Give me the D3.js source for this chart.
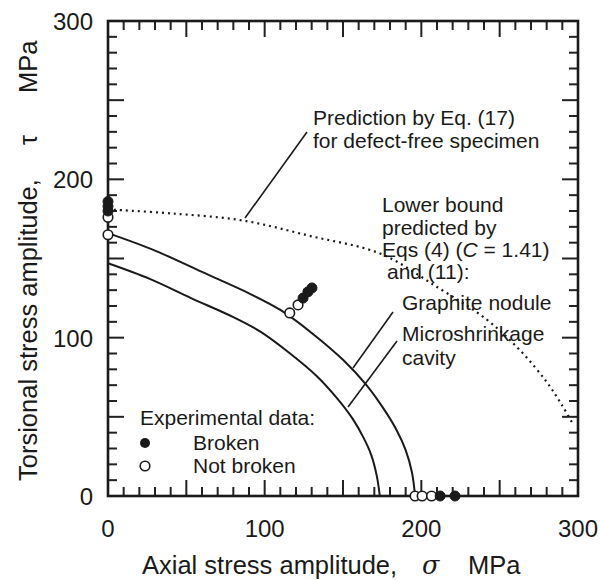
<!DOCTYPE html>
<html><head><meta charset="utf-8">
<script src="https://cdn.jsdelivr.net/npm/d3@7"></script>
<style>body{margin:0;background:#fff}svg{display:block}text{font-family:"Liberation Sans",Arial,sans-serif;fill:#1a1a1a}</style>
</head><body>
<script>
const xTickValues = [0, 100, 200, 300];
const yTickValues = [0, 100, 200, 300];
const minorTicks = [10, 20, 30, 40, 60, 70, 80, 90, 110, 120, 130, 140, 160, 170, 180, 190, 210, 220, 230, 240, 260, 270, 280, 290];
const majorTicks = [50, 100, 150, 200, 250];
// Prediction by Eq.(17), defect-free (dotted)
const dottedSigma = [0, 40, 86, 130, 174, 210, 241, 263, 280, 290, 297];
const dottedTau   = [181, 178.5, 174, 164, 153, 132, 112, 92, 72, 57, 45];
// Graphite nodule lower bound (outer solid)
const outerSigma = [0, 30, 60, 90, 110, 130, 150, 165, 176, 184, 190, 194, 196];
const outerTau   = [166, 155, 141.5, 128, 117.5, 103, 86, 70, 55, 42, 29, 15, 0];
// Microshrinkage cavity lower bound (inner solid)
const innerSigma = [0, 27, 53, 80, 97, 115, 133, 146, 156, 163, 168, 171.5, 173.5];
const innerTau   = [147, 137, 125, 113, 104, 91, 76, 62, 49, 37, 26, 13, 0];
// Experimental data
const brokenSigma = [0, 0, 0, 124.5, 127.6, 130.2, 212, 221.5];
const brokenTau   = [186, 183, 180, 125, 128.9, 131.4, 0, 0];
const notBrokenSigma = [0, 0, 116, 121.3, 196, 200.5, 206.5];
const notBrokenTau   = [176, 165, 115.6, 120.7, 0, 0, 0];

const W = 600, H = 580;
const svg = d3.select("body").append("svg").attr("width", W).attr("height", H);
const x = d3.scaleLinear().domain([0, 300]).range([108, 578]);
const y = d3.scaleLinear().domain([0, 300]).range([496, 21]);
const ink = "#1a1a1a";

// inward ticks on all four sides, as thin filled rectangles
const tickData = [];
[[minorTicks, 9], [majorTicks, 16]].forEach(([vals, len]) => {
  vals.forEach(v => {
    tickData.push({ px: x(v) - 1, py: y(0) - len, w: 2, h: len });
    tickData.push({ px: x(v) - 1, py: y(300), w: 2, h: len });
    tickData.push({ px: x(0), py: y(v) - 1, w: len, h: 2 });
    tickData.push({ px: x(300) - len, py: y(v) - 1, w: len, h: 2 });
  });
});
svg.append("g").selectAll("rect").data(tickData).enter().append("rect")
  .attr("x", d => d.px).attr("y", d => d.py).attr("width", d => d.w).attr("height", d => d.h)
  .attr("fill", "#222");

svg.append("rect").attr("x", x(0)).attr("y", y(300)).attr("width", x(300) - x(0)).attr("height", y(0) - y(300))
  .attr("fill", "none").attr("stroke", ink).attr("stroke-width", 2.6);

// tick labels
svg.selectAll(".xl").data(xTickValues).enter().append("text")
  .attr("x", d => x(d)).attr("y", 537).attr("text-anchor", "middle").attr("font-size", 24).text(d => d);
svg.selectAll(".yl").data(yTickValues).enter().append("text")
  .attr("x", 93).attr("y", d => y(d) + 9).attr("text-anchor", "end").attr("font-size", 24).text(d => d);

// axis titles
const xt = svg.append("text").attr("x", 142).attr("y", 574).attr("font-size", 25.5);
xt.append("tspan").text("Axial stress amplitude,");
xt.append("tspan").attr("x", 422).attr("font-style", "italic").attr("font-family", "DejaVu Serif").text("σ");
xt.append("tspan").attr("x", 468).text("MPa");
const yt = svg.append("text").attr("transform", "translate(37,481) rotate(-90)").attr("font-size", 25.5);
yt.append("tspan").text("Torsional stress amplitude,");
yt.append("tspan").attr("x", 336).text("τ");
yt.append("tspan").attr("x", 388).text("MPa");

// curves
const line = (xs, ys) => d3.line().x(i => x(xs[i])).y(i => y(ys[i])).curve(d3.curveCatmullRom.alpha(0.5))(d3.range(xs.length));
svg.append("path").attr("d", line(dottedSigma, dottedTau)).attr("fill", "none").attr("stroke", ink)
  .attr("stroke-width", 2.2).attr("stroke-dasharray", "2,4");
svg.append("path").attr("d", line(outerSigma, outerTau)).attr("fill", "none").attr("stroke", ink).attr("stroke-width", 2);
svg.append("path").attr("d", line(innerSigma, innerTau)).attr("fill", "none").attr("stroke", ink).attr("stroke-width", 2);

// leader lines
const leaders = [[307, 132, 245, 218], [393, 312, 353, 368], [397, 341, 348, 407]];
leaders.forEach(l => svg.append("line").attr("x1", l[0]).attr("y1", l[1]).attr("x2", l[2]).attr("y2", l[3])
  .attr("stroke", ink).attr("stroke-width", 1.6));

// annotations
const ann = (xx, yy, s) => svg.append("text").attr("x", xx).attr("y", yy).attr("font-size", 21).text(s);
ann(313, 125, "Prediction by Eq. (17)");
ann(313, 148, "for defect-free specimen");
ann(382, 212, "Lower bound");
ann(382, 235, "predicted by");
const eq = svg.append("text").attr("x", 382).attr("y", 257).attr("font-size", 21);
eq.append("tspan").text("Eqs (4) (");
eq.append("tspan").attr("font-style", "italic").text("C");
eq.append("tspan").text(" = 1.41)");
ann(387, 279, "and (11):");
ann(402, 310, "Graphite nodule");
ann(402, 341, "Microshrinkage");
ann(402, 365, "cavity");

// legend
ann(140, 425, "Experimental data:");
svg.append("circle").attr("cx", 145).attr("cy", 443).attr("r", 5).attr("fill", ink);
svg.append("circle").attr("cx", 145).attr("cy", 466).attr("r", 4.8).attr("fill", "#fff").attr("stroke", ink).attr("stroke-width", 1.6);
ann(193, 450, "Broken");
ann(193, 473, "Not broken");

// points
svg.selectAll(".nb").data(d3.range(notBrokenSigma.length)).enter().append("circle")
  .attr("cx", i => x(notBrokenSigma[i])).attr("cy", i => y(notBrokenTau[i])).attr("r", 4.8)
  .attr("fill", "#fff").attr("stroke", ink).attr("stroke-width", 1.6);
svg.selectAll(".br").data(d3.range(brokenSigma.length)).enter().append("circle")
  .attr("cx", i => x(brokenSigma[i])).attr("cy", i => y(brokenTau[i])).attr("r", 5)
  .attr("fill", ink).attr("stroke", ink).attr("stroke-width", 1);
</script>
</body></html>
